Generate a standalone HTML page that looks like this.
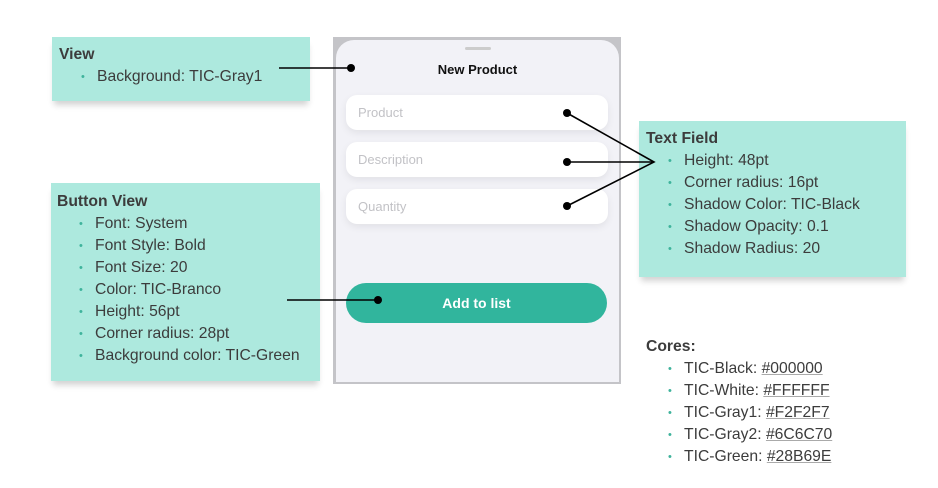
<!DOCTYPE html>
<html><head><style>
body{margin:0;width:938px;height:488px;background:#fff;position:relative;overflow:hidden;font-family:"Liberation Sans",sans-serif;color:#3c3c3c}
.box{position:absolute;background:#ade9de;box-shadow:0 6px 6px -2px rgba(0,0,0,0.18)}
.t{position:absolute;font-size:15.7px;line-height:22px;white-space:nowrap}
.t b{font-weight:bold}
.li{padding-left:38px;position:relative}
.li:before{content:"•";position:absolute;left:22px;color:#3fb39c;font-size:11px}
u{text-decoration-color:#aaa}
.phone{position:absolute;left:333px;top:37px;width:288px;height:347px;background:#c4c4c8}
.card{position:absolute;left:336px;top:40px;width:283px;height:342px;background:#f2f2f7;border-radius:18px 18px 0 0}
.fld{position:absolute;left:346px;width:262px;height:35px;background:#fff;border-radius:11px;box-shadow:0 3px 8px rgba(0,0,0,0.07);font-size:13px;color:#c2c2c6;line-height:35px;text-indent:12px}
</style></head><body>
<div class="box" style="left:52px;top:37px;width:258px;height:64px"></div>
<div class="t" style="left:59px;top:44px"><b>View</b><div class="li">Background: TIC-Gray1</div></div>
<div class="box" style="left:51px;top:183px;width:269px;height:198px"></div>
<div class="t" style="left:57px;top:191px"><b>Button View</b>
<div class="li">Font: System</div><div class="li">Font Style: Bold</div><div class="li">Font Size: 20</div><div class="li">Color: TIC-Branco</div><div class="li">Height: 56pt</div><div class="li">Corner radius: 28pt</div><div class="li">Background color: TIC-Green</div></div>
<div class="box" style="left:639px;top:121px;width:267px;height:156px"></div>
<div class="t" style="left:646px;top:128px"><b>Text Field</b>
<div class="li">Height: 48pt</div><div class="li">Corner radius: 16pt</div><div class="li">Shadow Color: TIC-Black</div><div class="li">Shadow Opacity: 0.1</div><div class="li">Shadow Radius: 20</div></div>
<div class="t" style="left:646px;top:336px"><b>Cores:</b>
<div class="li">TIC-Black: <u>#000000</u></div><div class="li">TIC-White: <u>#FFFFFF</u></div><div class="li">TIC-Gray1: <u>#F2F2F7</u></div><div class="li">TIC-Gray2: <u>#6C6C70</u></div><div class="li">TIC-Green: <u>#28B69E</u></div></div>
<div class="phone"></div>
<div class="card"></div>
<div style="position:absolute;left:465px;top:47px;width:26px;height:3px;border-radius:2px;background:#ccc"></div>
<div style="position:absolute;left:336px;top:62px;width:283px;text-align:center;font-weight:bold;font-size:13px;color:#111">New Product</div>
<div class="fld" style="top:95px">Product</div>
<div class="fld" style="top:142px">Description</div>
<div class="fld" style="top:189px">Quantity</div>
<div style="position:absolute;left:346px;top:283px;width:261px;height:40px;border-radius:20px;background:#31b59d;color:#fff;font-weight:bold;font-size:14px;line-height:40px;text-align:center">Add to list</div>
<svg width="938" height="488" style="position:absolute;left:0;top:0">
<g stroke="#000" stroke-width="1.6" fill="none">
<line x1="279" y1="68" x2="351" y2="68"/>
<line x1="287" y1="300" x2="378" y2="300"/>
<polyline points="567,113 654,162 567,206"/>
<line x1="567" y1="162" x2="654" y2="162"/>
</g>
<g fill="#000"><circle cx="351" cy="68" r="4"/><circle cx="378" cy="300" r="4"/><circle cx="567" cy="113" r="4"/><circle cx="567" cy="162" r="4"/><circle cx="567" cy="206" r="4"/></g>
</svg>
</body></html>
